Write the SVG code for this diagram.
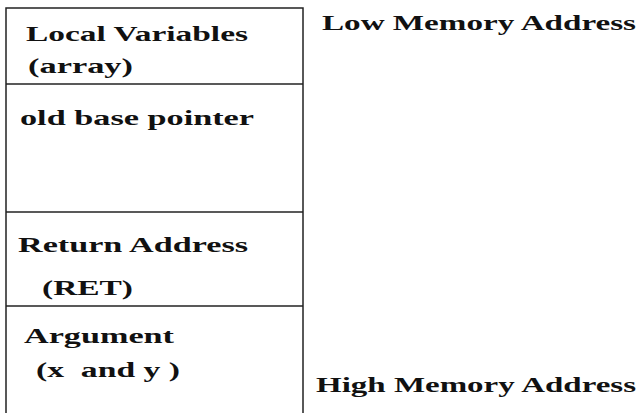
<svg xmlns="http://www.w3.org/2000/svg" width="642" height="413" viewBox="0 0 642 413">
<style>
text{font-family:"Liberation Serif","Times New Roman",serif;font-weight:bold;fill:#111}
.b{font-size:22px}
.s{font-size:20px}
.k{stroke:#222;stroke-width:1.5;fill:none}
</style>
<rect width="642" height="413" fill="#fff"/>
<g id="stack">
<rect class="k" x="6" y="8" width="297" height="410"/>
<line class="k" x1="6" y1="84" x2="303" y2="84"/>
<line class="k" x1="6" y1="212" x2="303" y2="212"/>
<line class="k" x1="6" y1="306" x2="303" y2="306"/>
</g>
<g id="local"><text class="b" x="26" y="41" textLength="222" lengthAdjust="spacingAndGlyphs">Local Variables</text><text class="b" x="28" y="73" textLength="105" lengthAdjust="spacingAndGlyphs">(array)</text></g>
<g id="oldbp"><text class="b" x="20" y="125" textLength="234" lengthAdjust="spacingAndGlyphs">old base pointer</text></g>
<g id="ret"><text class="b" x="18" y="252" textLength="230" lengthAdjust="spacingAndGlyphs">Return Address</text><text class="b" x="42" y="295" textLength="91" lengthAdjust="spacingAndGlyphs">(RET)</text></g>
<g id="arg"><text class="b" x="24" y="343" textLength="150" lengthAdjust="spacingAndGlyphs">Argument</text><text class="b" x="36" y="377" xml:space="preserve" textLength="144" lengthAdjust="spacingAndGlyphs">(x  and y )</text></g>
<g id="low"><text class="s" x="322" y="30" textLength="314" lengthAdjust="spacingAndGlyphs">Low Memory Address</text></g>
<g id="high"><text class="s" x="316" y="392" textLength="320" lengthAdjust="spacingAndGlyphs">High Memory Address</text></g>
<g id="connectors"></g>
</svg>
